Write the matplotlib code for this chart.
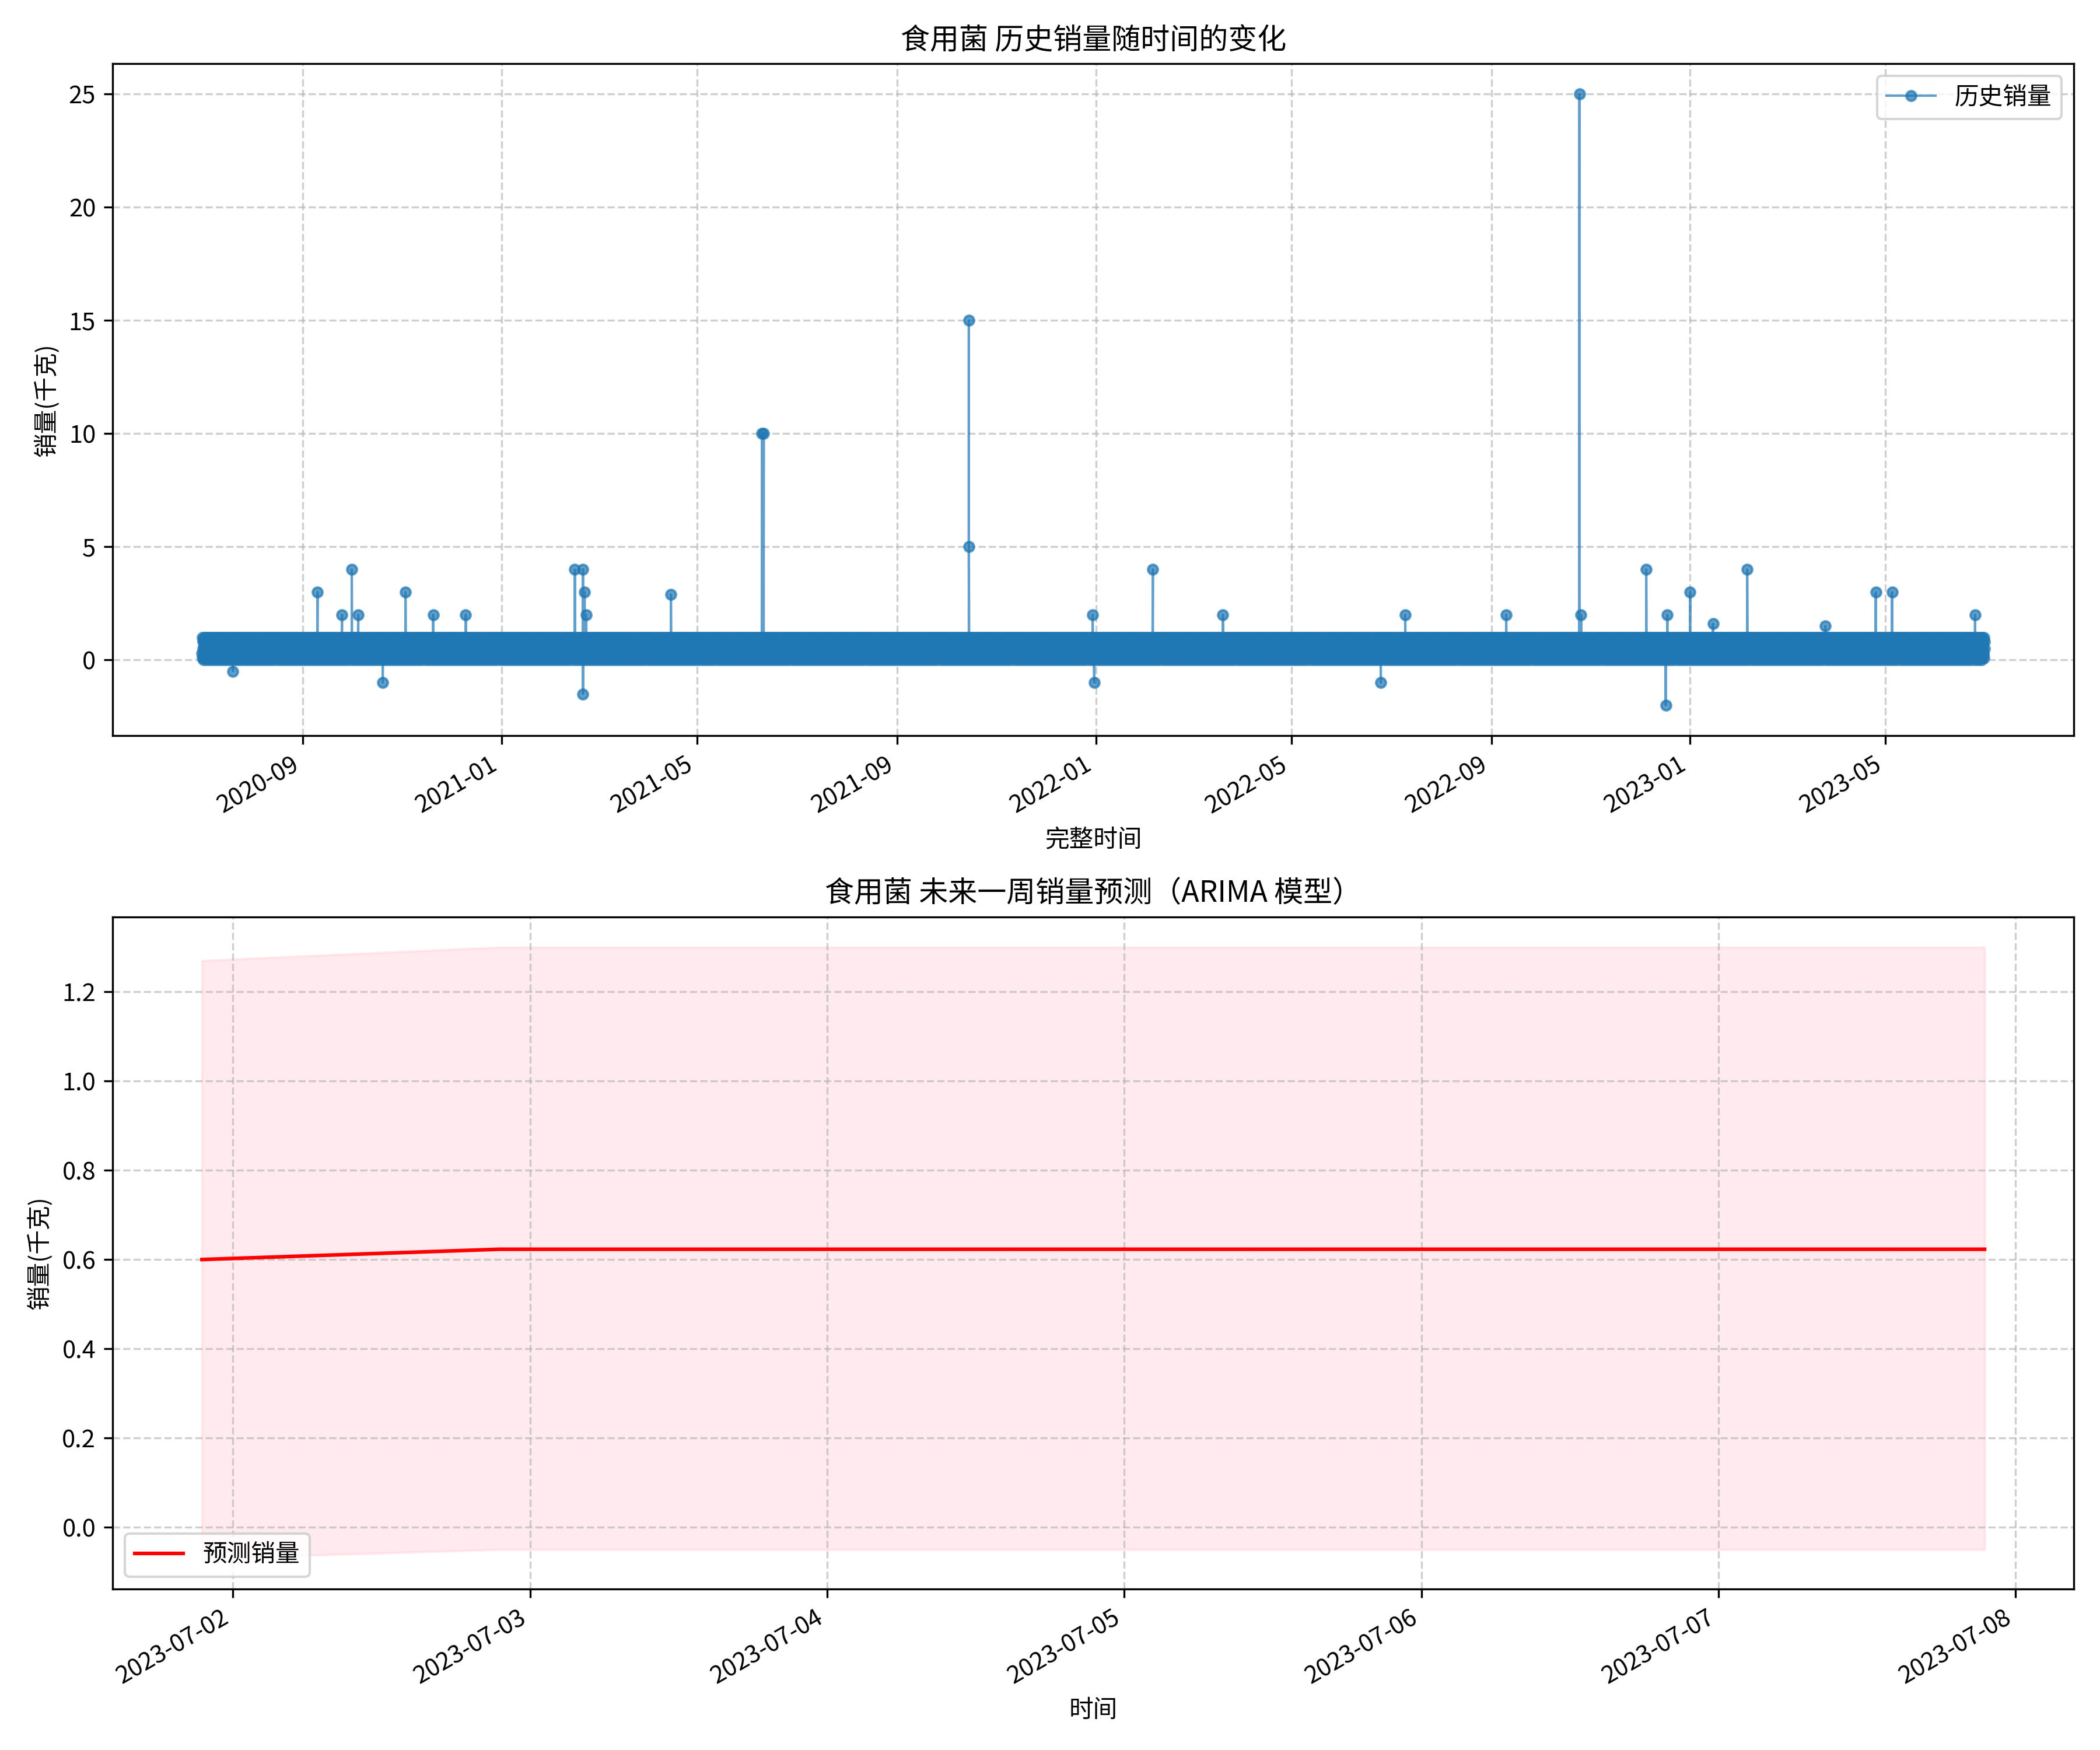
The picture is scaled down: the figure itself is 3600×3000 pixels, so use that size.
import numpy as np
import pandas as pd
import matplotlib
matplotlib.use("Agg")
import matplotlib.pyplot as plt

plt.rcParams['font.family'] = ['Noto Sans CJK SC', 'DejaVu Sans']
plt.rcParams['axes.unicode_minus'] = False

# history: baseline transaction pattern (kg) repeated over the period, plus notable spikes
hist_start = "2020-07-01"
hist_end = "2023-06-30 20:00"
base_pattern = [0.3, 1.0, 0.1, 0.8, 0.5, 0.0, 0.9, 0.2, 0.6, 1.0, 0.4, 0.7, 0.25]
spike_dates = ["2020-07-20", "2020-09-10", "2020-09-25", "2020-10-01", "2020-10-05",
               "2020-11-03", "2020-11-20", "2020-12-10", "2021-02-15", "2021-02-20",
               "2021-02-21", "2021-02-20", "2021-04-15", "2021-06-10", "2021-06-11",
               "2021-10-15", "2021-10-15", "2021-12-30", "2022-02-05", "2022-03-20",
               "2022-07-10", "2022-09-10", "2022-10-25", "2022-10-26", "2022-12-05",
               "2022-12-18", "2023-01-01", "2023-01-15", "2023-02-05", "2023-03-25",
               "2023-04-25", "2023-05-05", "2023-06-25", "2020-10-20", "2021-02-22",
               "2022-12-17", "2022-06-25", "2021-12-31"]
spike_values = [-0.5, 3.0, 2.0, 4.0, 2.0, 3.0, 2.0, 2.0, 4.0, 4.0,
                3.0, -1.5, 2.9, 10.0, 10.0,
                15.0, 5.0, 2.0, 4.0, 2.0,
                2.0, 2.0, 25.0, 2.0, 4.0,
                2.0, 3.0, 1.6, 4.0, 1.5,
                3.0, 3.0, 2.0, -1.0, 2.0,
                -2.0, -1.0, -1.0]

# forecast
fc_dates = ["2023-07-01 21:30", "2023-07-02 21:30", "2023-07-03 21:30", "2023-07-04 21:30",
            "2023-07-05 21:30", "2023-07-06 21:30", "2023-07-07 21:30"]
fc_values = [0.600, 0.623, 0.623, 0.623, 0.623, 0.623, 0.623]
fc_lower = [-0.07, -0.05, -0.05, -0.05, -0.05, -0.05, -0.05]
fc_upper = [1.27, 1.30, 1.30, 1.30, 1.30, 1.30, 1.30]

times = pd.date_range(hist_start, hist_end, freq="4h")
hist = pd.Series([base_pattern[i % len(base_pattern)] for i in range(len(times))], index=times)
spikes = pd.Series(spike_values, index=pd.to_datetime(spike_dates))
hist = pd.concat([hist, spikes]).sort_index()

fig, (ax1, ax2) = plt.subplots(2, 1, figsize=(12, 10))

ax1.plot(hist.index, hist.values, "o-", color="#1f77b4", markersize=4,
         linewidth=1, alpha=0.7, label="历史销量")
ax1.set_title("食用菌 历史销量随时间的变化")
ax1.set_xlabel("完整时间")
ax1.set_ylabel("销量(千克)")
ax1.grid(True, linestyle="--", alpha=0.6)
ax1.legend(loc="upper right")
for lbl in ax1.get_xticklabels():
    lbl.set_rotation(30)
    lbl.set_ha("right")

fc_x = pd.to_datetime(fc_dates)
ax2.plot(fc_x, fc_values, color="red", label="预测销量")
ax2.fill_between(fc_x, fc_lower, fc_upper, color="pink", alpha=0.3)
ax2.set_title("食用菌 未来一周销量预测（ARIMA 模型）")
ax2.set_xlabel("时间")
ax2.set_ylabel("销量(千克)")
ax2.grid(True, linestyle="--", alpha=0.6)
ax2.legend(loc="lower left")
for lbl in ax2.get_xticklabels():
    lbl.set_rotation(30)
    lbl.set_ha("right")

plt.tight_layout()
plt.savefig("out.png", dpi=300)
